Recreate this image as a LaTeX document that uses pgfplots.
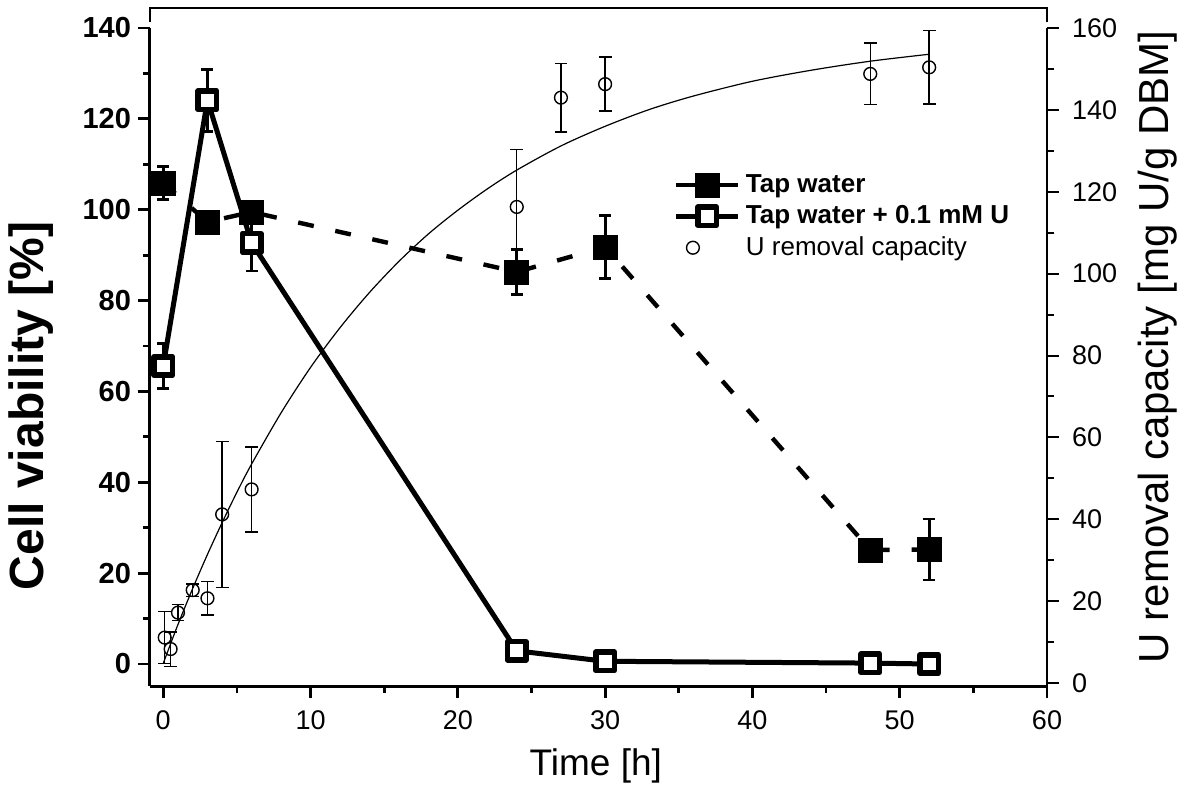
\documentclass[border=0pt]{standalone}
\usepackage{fontspec}
\setmainfont{Liberation Sans}
\usepackage{pgfplots}
\pgfplotsset{compat=1.18}

\begin{document}
\begin{tikzpicture}
\pgfplotsset{
  /pgf/number format/assume math mode=true,
  every axis/.append style={
    scale only axis, width=448.5pt, height=339pt,
    xmin=-0.9, xmax=60, clip=false,
    tick align=outside,
    major tick length=6pt, minor tick length=3.5pt,
  },
  leg/.style={legend image code/.code={
    \draw[mark repeat=2,mark phase=2,##1] plot coordinates {(0cm,0cm)(0.55cm,0cm)(1.1cm,0cm)};}},
  legdot/.style={legend image code/.code={
    \draw[##1] plot coordinates {(0.3cm,0cm)}; \path (1.1cm,0cm);}},
}
% left axis: cell viability
\begin{axis}[
  ymin=-4.84, ymax=144.4,
  axis x line*=bottom,
  axis y line*=left,
  x axis line style={line width=1.5pt, -},
  y axis line style={draw=none},
  xtick={0,10,...,60}, minor x tick num=1,
  ytick={0,20,...,140}, minor y tick num=1,
  tick style={black, line width=1.4pt},
  xticklabel style={font=\fontsize{13.5}{16}\selectfont, yshift=-3pt},
  yticklabel style={font=\bfseries\fontsize{14.5}{17}\selectfont},
  xlabel={Time [h]},
  xlabel style={font=\fontsize{18.5}{22}\selectfont, at={(axis description cs:0.497,-0.118)}, anchor=center},
  ylabel={Cell viability [\%]},
  ylabel style={font=\bfseries\fontsize{24}{28}\selectfont, at={(axis description cs:-0.133,0.413)}, anchor=center},
]
\draw[line width=1.5pt] (rel axis cs:0,0) -- (axis cs:-0.9,140);
\coordinate (SW) at (rel axis cs:0,0);
\coordinate (NE) at (rel axis cs:1,1);

% Tap water
\addplot[black, line width=2.2pt, dash pattern=on 8pt off 11pt,
  mark=square*, mark size=6pt, mark options={solid, line width=0.4pt},
  error bars/.cd, y dir=both, y explicit,
  error bar style={line width=1.4pt, solid},
  error mark options={rotate=90, line width=1.4pt, mark size=3pt, solid}]
  coordinates {
  (0,105.9) +- (0,3.6)
  (3,97.3) +- (0,0)
  (6,99.5) +- (0,1)
  (24,86.3) +- (0,5)
  (30,91.8) +- (0,7)
  (48,25.1) +- (0,1)
  (52,25.2) +- (0,6.7)
};

% Tap water + 0.1 mM U
\addplot[black, line width=2.5pt,
  mark=square*, mark size=4.6pt, mark options={fill=white, line width=2.8pt, line join=round},
  error bars/.cd, y dir=both, y explicit,
  error bar style={line width=1.4pt},
  error mark options={rotate=90, line width=1.4pt, mark size=3pt}]
  coordinates {
  (0,65.6) +- (0,5)
  (3,124.1) +- (0,6.8)
  (6,92.7) +- (0,6.2)
  (24,2.9) +- (0,0)
  (30,0.6) +- (0,0)
  (48,0.2) +- (0,0)
  (52,0.0) +- (0,0)
};
\end{axis}

% right axis: U removal capacity
\begin{axis}[
  ymin=-0.73, ymax=164.9,
  axis x line=none,
  axis y line*=right,
  y axis line style={draw=none},
  ytick={0,20,...,160}, minor y tick num=1,
  tick style={black, line width=1pt},
  yticklabel style={font=\fontsize{13.5}{16}\selectfont, xshift=3pt},
  ylabel={U removal capacity [mg U/g DBM]},
  ylabel style={font=\fontsize{21}{25}\selectfont, at={(axis description cs:1.123,0.5)}, anchor=center, rotate=0},
  legend style={at={(axis description cs:0.583,0.762)}, anchor=north west,
    draw=none, fill=none, font=\fontsize{13}{15}\selectfont,
    row sep=0pt, inner sep=0pt, nodes={inner sep=2.5pt}},
  legend cell align=left,
]
% frame
\draw[line width=1pt] (rel axis cs:1,0) -- (axis cs:60,160);
\draw[line width=1pt] (rel axis cs:0,0.98) -- (rel axis cs:0,1) -- (rel axis cs:1,1) -- (rel axis cs:1,0.98);

\addlegendimage{leg, black, line width=2.2pt, mark=square*, mark size=6pt, mark options={line width=0.4pt}}
\addlegendentry{\textbf{Tap water}}
\addlegendimage{leg, black, line width=2.5pt, mark=square*, mark size=4.6pt, mark options={fill=white, line width=2.8pt, line join=round}}
\addlegendentry{\textbf{Tap water + 0.1 mM U}}

% fitted curve
\addplot[black, line width=0.6pt, smooth, forget plot] coordinates {
  (0,4.8) (1,14.3) (2,23.1) (3,31.4) (4,39.2) (5,46.6) (6,53.5)
  (8,66.0) (10,77.1) (12,86.8) (14,95.4) (16,103.0) (18,109.7)
  (20,115.5) (22,120.7) (24,125.3) (27,131.2) (30,136.0) (33,140.1)
  (36,143.4) (40,147.0) (44,149.7) (48,151.9) (52,153.6)
};

% U removal capacity
\addplot[legdot, black, only marks, mark=o, mark size=3.2pt,
  mark options={fill=white, line width=0.7pt},
  error bars/.cd, y dir=both, y explicit,
  error bar style={line width=0.7pt},
  error mark options={rotate=90, line width=0.7pt, mark size=3.2pt}]
  coordinates {
  (0.1,11.1) +- (0,6.3)
  (0.5,8.3) +- (0,4.2)
  (1,17.2) +- (0,2.0)
  (2,22.7) +- (0,1.5)
  (3,20.7) +- (0,4.1)
  (4,41.2) +- (0,17.8)
  (6,47.3) +- (0,10.4)
  (24,116.3) +- (0,14)
  (27,143.0) +- (0,8.4)
  (30,146.3) +- (0,6.6)
  (48,148.8) +- (0,7.5)
  (52,150.4) +- (0,9)
};
\addlegendentry{U removal capacity}
\end{axis}
\pgfresetboundingbox
\path ([shift={(-75pt,-50.5pt)}]SW) rectangle ([shift={(68pt,4pt)}]NE);
\end{tikzpicture}
\end{document}
